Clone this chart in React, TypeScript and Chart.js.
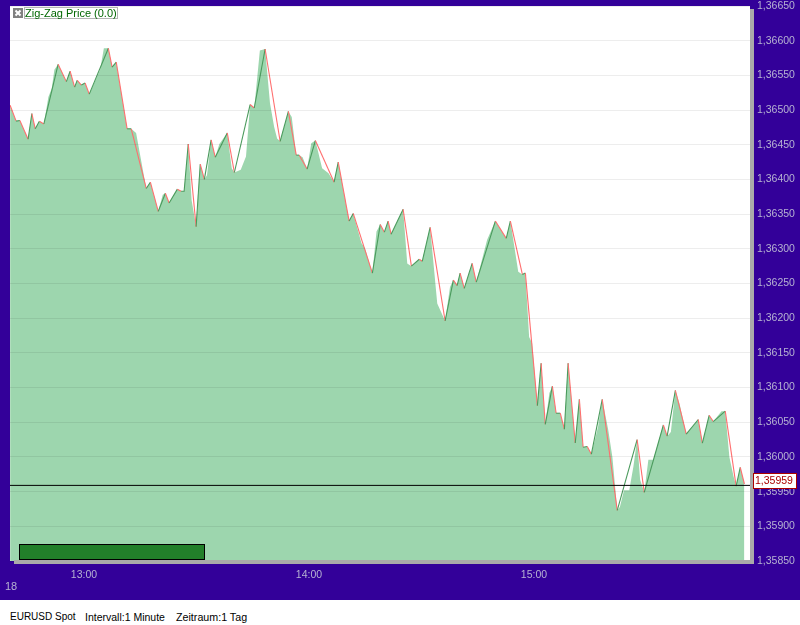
import React, { useRef, useEffect } from 'react';
import { Chart, registerables } from 'chart.js';

Chart.register(...registerables);

// minutes since midnight
const zigzagMinutes = [
  760.3, 761.9, 762.9, 765.1, 766.1, 767.0, 768.1, 769.3, 773.1, 775.3, 776.3, 777.5, 778.2, 779.3, 780.3, 781.4,
  786.5, 787.5, 788.6, 791.5, 792.6, 796.6, 797.7, 799.8, 801.7, 802.7, 804.9, 805.9, 806.7, 807.8, 809.9, 811.0,
  812.1, 813.9, 815.0, 818.2, 820.1, 824.3, 825.4, 828.3, 832.3, 834.5, 836.6, 837.4, 839.5, 841.7, 846.7, 847.8,
  850.7, 851.8, 856.9, 859.0, 860.1, 861.1, 861.9, 865.1, 867.3, 869.4, 870.2, 872.3, 876.3, 878.5, 879.5, 880.3,
  881.4, 883.5, 884.6, 889.7, 892.6, 893.7, 896.9, 897.7, 900.9, 901.9, 903.0, 904.9, 905.9, 907.0, 908.1, 909.1,
  911.0, 912.1, 913.1, 914.2, 915.3, 918.2, 922.2, 927.5, 929.4, 934.5, 935.5, 937.7, 940.6, 943.8, 944.9, 946.7,
  947.8, 951.0, 953.9, 955.0, 956.1,
];
const zigzagPrices = [
  1.36507, 1.36484, 1.36485, 1.36458, 1.36495, 1.36473, 1.36484, 1.3648, 1.36566, 1.36541, 1.36556, 1.36533, 1.36543, 1.36536, 1.36539, 1.36523,
  1.36589, 1.36562, 1.36569, 1.36473, 1.36473, 1.36387, 1.36396, 1.36354, 1.3638, 1.36366, 1.36386, 1.36383, 1.36383, 1.36451, 1.36332, 1.36422,
  1.364, 1.36457, 1.36432, 1.36467, 1.3641, 1.36508, 1.36503, 1.36588, 1.36455, 1.36498, 1.36435, 1.36435, 1.36415, 1.36456, 1.36396, 1.36425,
  1.3634, 1.36351, 1.36265, 1.36335, 1.36324, 1.3634, 1.36321, 1.36357, 1.36275, 1.36285, 1.36282, 1.36331, 1.36196, 1.36255, 1.36247, 1.36265,
  1.36243, 1.36279, 1.36252, 1.3634, 1.36315, 1.3634, 1.36263, 1.36265, 1.36074, 1.36135, 1.36047, 1.36102, 1.36063, 1.36063, 1.3604, 1.36135,
  1.3602, 1.36083, 1.36014, 1.36015, 1.36004, 1.36083, 1.35923, 1.36025, 1.35949, 1.36046, 1.3603, 1.36096, 1.36033, 1.36054, 1.3602, 1.3606,
  1.36051, 1.36066, 1.35958, 1.35985, 1.35961,
];

const areaMinutes = [
  760.3, 761.9, 762.9, 765.1, 766.1, 767.0, 768.1, 769.3, 770.5, 771.4, 772.1, 773.1, 775.3, 776.3, 777.5, 778.2,
  779.3, 780.3, 781.4, 784.3, 785.3, 786.5, 787.5, 788.6, 791.5, 792.6, 793.9, 796.6, 797.7, 799.8, 801.0, 801.7,
  802.7, 804.9, 805.9, 806.7, 807.8, 808.7, 809.9, 811.0, 812.1, 812.8, 813.9, 815.0, 816.1, 818.2, 819.4, 820.1,
  821.8, 823.2, 824.3, 825.4, 826.9, 828.3, 829.6, 830.7, 831.5, 832.3, 834.5, 835.4, 836.6, 837.4, 838.3, 839.5,
  840.6, 841.7, 843.5, 845.2, 846.7, 847.8, 850.7, 851.8, 854.0, 854.9, 856.9, 858.0, 859.0, 860.1, 861.1, 861.9,
  865.1, 866.2, 867.3, 869.4, 870.2, 872.3, 874.2, 876.3, 877.6, 878.5, 879.5, 880.3, 881.4, 883.5, 884.6, 887.5,
  889.7, 892.6, 893.7, 895.8, 896.9, 897.7, 898.7, 899.5, 900.9, 901.9, 903.0, 904.1, 904.9, 905.9, 907.0, 908.1,
  909.1, 911.0, 912.1, 913.1, 914.2, 915.3, 917.1, 918.2, 919.8, 920.9, 922.2, 922.9, 924.0, 925.4, 926.5, 927.5,
  928.3, 929.4, 930.5, 931.8, 934.5, 935.5, 936.5, 937.7, 938.8, 940.6, 943.8, 944.9, 946.7, 947.8, 950.0, 951.0,
  952.1, 953.2, 953.9, 955.0, 956.1,
];
const areaPrices = [
  1.36507, 1.36484, 1.36485, 1.36458, 1.36495, 1.36473, 1.36484, 1.3648, 1.36519, 1.36531, 1.36558, 1.36566, 1.36541, 1.36556, 1.36533, 1.36543,
  1.36536, 1.36539, 1.36523, 1.36558, 1.36589, 1.36589, 1.36562, 1.36569, 1.36473, 1.36473, 1.36467, 1.36387, 1.36396, 1.36354, 1.36378, 1.3638,
  1.36366, 1.36386, 1.36383, 1.36383, 1.36451, 1.3637, 1.36332, 1.36422, 1.364, 1.36406, 1.36457, 1.36432, 1.36451, 1.36467, 1.36416, 1.3641,
  1.36414, 1.36433, 1.36508, 1.36503, 1.36586, 1.36588, 1.3651, 1.36476, 1.36459, 1.36455, 1.36498, 1.3649, 1.36435, 1.36435, 1.36432, 1.36415,
  1.36452, 1.36456, 1.36416, 1.36409, 1.36396, 1.36425, 1.3634, 1.36351, 1.36308, 1.36301, 1.36265, 1.36325, 1.36335, 1.36324, 1.3634, 1.36321,
  1.36357, 1.36279, 1.36275, 1.36285, 1.36282, 1.36331, 1.36221, 1.36196, 1.36245, 1.36255, 1.36247, 1.36265, 1.36243, 1.36279, 1.36252, 1.36313,
  1.3634, 1.36315, 1.3634, 1.36267, 1.36263, 1.36265, 1.36173, 1.36164, 1.36074, 1.36135, 1.36047, 1.36092, 1.36102, 1.36063, 1.36063, 1.3604,
  1.36135, 1.3602, 1.36083, 1.36014, 1.36015, 1.36004, 1.36044, 1.36083, 1.36039, 1.36, 1.35923, 1.35928, 1.35952, 1.35952, 1.35986, 1.36025,
  1.35967, 1.35949, 1.35996, 1.35996, 1.36046, 1.3603, 1.36036, 1.36096, 1.36077, 1.36033, 1.36054, 1.3602, 1.3606, 1.36051, 1.36066, 1.36066,
  1.36, 1.35972, 1.35958, 1.35985, 1.35961,
];

const lastPrice = 1.35959;
const dayLabel = '18';
const legendLabel = 'Zig-Zag Price (0.0)';
const captionParts = ['EURUSD Spot', 'Intervall:1 Minute', 'Zeitraum:1 Tag'];
const priceMin = 1.3585;
const priceMax = 1.3665;
const minuteMin = 760.27;
const minuteMax = 957.6;

const INDIGO = '#330099';
const LABEL = '#b6b2d2';
const FONT = '"Liberation Sans", Arial, sans-serif';

const formatPrice = (v: number) => v.toFixed(5).replace('.', ',');
const formatMinute = (v: number) => {
  const h = Math.floor(v / 60);
  const m = Math.round(v - h * 60);
  return h + ':' + String(m).padStart(2, '0');
};

// everything the old applet draws around the plot
const decorations = {
  id: 'decorations',
  afterDraw(chart: Chart) {
    const { ctx, chartArea, scales } = chart;
    const { left, right, top, bottom } = chartArea;
    ctx.save();

    // grey edge
    ctx.fillStyle = '#aaaaaa';
    ctx.fillRect(right, top + 3, 4, bottom - top);
    ctx.fillRect(left + 4, bottom - 1, right - left, 4);

    // green bar
    ctx.fillStyle = '#22802a';
    ctx.strokeStyle = '#000000';
    ctx.lineWidth = 1;
    ctx.fillRect(left + 9, bottom - 17, 186, 16);
    ctx.strokeRect(left + 9.5, bottom - 16.5, 185, 15);

    // legend
    ctx.fillStyle = '#808080';
    ctx.fillRect(13, 8, 10, 10);
    ctx.strokeStyle = '#ffffff';
    ctx.lineWidth = 2;
    ctx.beginPath();
    ctx.moveTo(15.5, 10.5);
    ctx.lineTo(20.5, 15.5);
    ctx.moveTo(20.5, 10.5);
    ctx.lineTo(15.5, 15.5);
    ctx.stroke();
    ctx.strokeStyle = '#b4b4b4';
    ctx.lineWidth = 1;
    ctx.strokeRect(24.5, 7.5, 93, 11);
    ctx.font = '11px ' + FONT;
    ctx.fillStyle = '#006600';
    ctx.textAlign = 'left';
    ctx.textBaseline = 'middle';
    ctx.fillText(legendLabel, 25, 13.5);

    // last price box
    const y = Math.round(scales.y.getPixelForValue(lastPrice));
    ctx.fillStyle = '#ffffff';
    ctx.fillRect(753, y - 12, 44, 16);
    ctx.strokeStyle = '#aa0000';
    ctx.strokeRect(753.5, y - 11.5, 43, 15);
    ctx.font = '10.5px ' + FONT;
    ctx.fillStyle = '#aa0000';
    ctx.fillText(formatPrice(lastPrice), 755, y - 4);

    // day number
    ctx.fillStyle = LABEL;
    ctx.font = '11px ' + FONT;
    ctx.fillText(dayLabel, 5, 587);

    ctx.restore();
  },
};

const App: React.FC = () => {
  const chartRef = useRef<HTMLCanvasElement | null>(null);

  useEffect(() => {
    if (!chartRef.current) return;
    const chart = new Chart(chartRef.current, {
      type: 'line',
      data: {
        datasets: [
          {
            label: 'Price',
            data: areaMinutes.map((m, i) => ({ x: m, y: areaPrices[i] })),
            borderWidth: 0,
            pointRadius: 0,
            fill: 'start',
            backgroundColor: '#9dd6ae',
            order: 3,
          },
          {
            label: 'Zig-Zag',
            data: zigzagMinutes.map((m, i) => ({ x: m, y: zigzagPrices[i] })),
            borderWidth: 1.1,
            pointRadius: 0,
            fill: false,
            borderColor: '#ff6f6f',
            segment: {
              borderColor: (c: any) => (c.p1.parsed.y >= c.p0.parsed.y ? '#4a9a5c' : '#ff6f6f'),
            },
            order: 2,
          },
          {
            label: 'Last',
            data: [
              { x: minuteMin, y: lastPrice },
              { x: minuteMax, y: lastPrice },
            ],
            borderWidth: 1,
            pointRadius: 0,
            fill: false,
            borderColor: '#000000',
            order: 1,
          },
        ],
      },
      options: {
        animation: false,
        responsive: false,
        devicePixelRatio: 1,
        layout: { padding: { left: 10, top: 6, right: 0, bottom: 0 } },
        plugins: { legend: { display: false }, tooltip: { enabled: false } },
        scales: {
          x: {
            type: 'linear',
            min: minuteMin,
            max: minuteMax,
            afterFit: (s: any) => {
              s.height = 39;
              s.paddingLeft = 0;
              s.paddingRight = 0;
            },
            grid: { display: false },
            border: { display: false },
            ticks: {
              stepSize: 60,
              includeBounds: false,
              autoSkip: false,
              maxRotation: 0,
              padding: 0,
              color: LABEL,
              font: { family: FONT, size: 10.5 },
              callback: (v: any) => formatMinute(Number(v)),
            },
          },
          y: {
            type: 'linear',
            position: 'right',
            min: priceMin,
            max: priceMax,
            afterFit: (s: any) => {
              s.width = 50;
              s.paddingTop = 0;
              s.paddingBottom = 0;
            },
            grid: { color: 'rgba(0,0,0,0.07)', drawTicks: false, z: 1 },
            border: { display: false },
            ticks: {
              stepSize: 0.0005,
              autoSkip: false,
              padding: 7,
              color: LABEL,
              font: { family: FONT, size: 10.5 },
              callback: (v: any) => formatPrice(Number(v)),
            },
          },
        },
      },
      plugins: [
        {
          id: 'plotBackground',
          beforeDraw(c: Chart) {
            const a = c.chartArea;
            c.ctx.fillStyle = '#ffffff';
            c.ctx.fillRect(a.left, a.top, a.right - a.left, a.bottom - a.top);
          },
        },
        decorations,
      ],
    } as any);
    return () => chart.destroy();
  }, []);

  const captionStyle = (left: number, size: number): React.CSSProperties => ({
    position: 'absolute',
    left,
    top: 611,
    font: size + 'px ' + FONT,
    color: '#000000',
    whiteSpace: 'pre',
  });

  return (
    <div style={{ position: 'absolute', left: 0, top: 0, width: 800, height: 625, background: '#ffffff' }}>
      <canvas ref={chartRef} width={800} height={600} style={{ display: 'block', width: 800, height: 600, background: INDIGO }} />
      <div style={captionStyle(10, 10)}>{captionParts[0]}</div>
      <div style={captionStyle(85, 10.5)}>{captionParts[1]}</div>
      <div style={captionStyle(176, 10.7)}>{captionParts[2]}</div>
    </div>
  );
};

export default App;
